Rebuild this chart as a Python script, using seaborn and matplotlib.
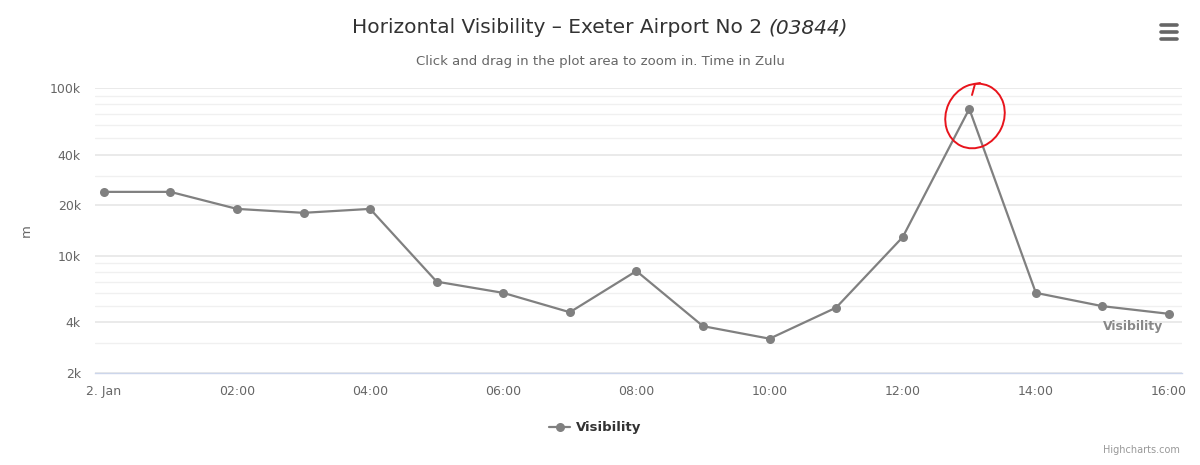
import matplotlib
matplotlib.use("Agg")
import matplotlib.pyplot as plt
from matplotlib.patches import Ellipse
from matplotlib.lines import Line2D
from matplotlib.transforms import IdentityTransform
import seaborn as sns
import pandas as pd

# hourly observations, 2 Jan (Zulu)
hour = [0, 1, 2, 3, 4, 5, 6, 7, 8, 9, 10, 11, 12, 13, 14, 15, 16]
visibility = [24000, 24000, 19000, 18000, 19000, 7000, 6000, 4600, 8100,
              3800, 3200, 4900, 12900, 75000, 6000, 5000, 4500]

xtick_pos = [0, 2, 4, 6, 8, 10, 12, 14, 16]
xtick_labels = ["2. Jan", "02:00", "04:00", "06:00", "08:00", "10:00",
                "12:00", "14:00", "16:00"]
ytick_pos = [2000, 4000, 10000, 20000, 40000, 100000]
ytick_labels = ["2k", "4k", "10k", "20k", "40k", "100k"]
yminor_pos = [3000, 5000, 6000, 7000, 8000, 9000,
              30000, 50000, 60000, 70000, 80000, 90000]

df = pd.DataFrame({"hour": hour, "Visibility": visibility})

sns.set_style("white")
plt.rcParams["font.family"] = ["DejaVu Sans"]

fig = plt.figure(figsize=(12, 4.65), dpi=100)
ax = fig.add_axes([0.079, 0.198, 0.906, 0.613])

line_col = "#808080"
sns.lineplot(data=df, x="hour", y="Visibility", ax=ax, color=line_col,
             linewidth=1.6, marker="o", markersize=6.5, markeredgewidth=0,
             zorder=5, legend=False)

ax.set_yscale("log")
ax.set_ylim(2000, 100000)
ax.set_xlim(-0.135, 16.195)

ax.set_yticks(ytick_pos)
ax.set_yticklabels(ytick_labels)
ax.set_yticks(yminor_pos, minor=True)
ax.set_xticks(xtick_pos)
ax.set_xticklabels(xtick_labels)

ax.grid(axis="y", which="major", color="#e6e6e6", linewidth=1.2, zorder=0)
ax.grid(axis="y", which="minor", color="#f0f0f0", linewidth=1.0, zorder=0)
ax.grid(axis="x", visible=False)

for s in ["top", "right", "left"]:
    ax.spines[s].set_visible(False)
ax.spines["bottom"].set_color("#ccd6eb")
ax.spines["bottom"].set_linewidth(1.0)

ax.tick_params(axis="x", which="major", length=8, width=1, color="#ccd6eb",
               labelsize=9, labelcolor="#666666", pad=1)
ax.tick_params(axis="y", which="both", length=0, labelsize=9,
               labelcolor="#666666", pad=10)
ax.set_xlabel("")
ax.set_ylabel("m", fontsize=9.5, color="#666666", labelpad=12)

# series label at the end of the line
ax.annotate("Visibility", xy=(hour[-1], visibility[-1]), xytext=(-4, -9),
            textcoords="offset points", ha="right", va="center",
            fontsize=9, fontweight="bold", color="#888888")

# title: regular part + italic station id, centred together
main = "Horizontal Visibility \u2013 Exeter Airport No 2 "
ital = "(03844)"
tm = fig.text(0, 0.94, main, ha="left", va="center", fontsize=14.5,
              color="#333333")
ti = fig.text(0, 0.94, ital, ha="left", va="center", fontsize=14.5,
              color="#333333", style="italic")
fig.canvas.draw()
wm = tm.get_window_extent().width
wi = ti.get_window_extent().width
x0 = (1200 - wm - wi) / 2
tm.set_x(x0 / 1200)
ti.set_x((x0 + wm) / 1200)

fig.text(0.5, 0.867, "Click and drag in the plot area to zoom in. Time in Zulu",
         ha="center", va="center", fontsize=9.5, color="#666666")

# legend
leg_handle = Line2D([], [], color=line_col, linewidth=1.6, marker="o",
                    markersize=6.5, markeredgewidth=0)
fig.legend([leg_handle], ["Visibility"], loc="center", bbox_to_anchor=(0.496, 0.08),
           frameon=False, handlelength=1.6, handletextpad=0.4,
           prop={"size": 9.5, "weight": "bold"}, labelcolor="#333333")

fig.text(0.983, 0.032, "Highcharts.com", ha="right", va="center",
         fontsize=7, color="#999999")

# hamburger menu icon
for yy in [440, 433, 426]:
    fig.add_artist(Line2D([1161, 1177], [yy, yy], transform=IdentityTransform(),
                          color="#666666", linewidth=2.6, solid_capstyle="round"))

# red hand-drawn circle around the peak
fig.add_artist(Ellipse((975, 349), 58, 66, angle=-25, transform=IdentityTransform(),
                       fill=False, edgecolor="#e8141c", linewidth=1.4))
fig.add_artist(Line2D([972, 975, 980], [370, 381, 382], transform=IdentityTransform(),
                      color="#e8141c", linewidth=1.4))

fig.savefig("out.png", dpi=100)
